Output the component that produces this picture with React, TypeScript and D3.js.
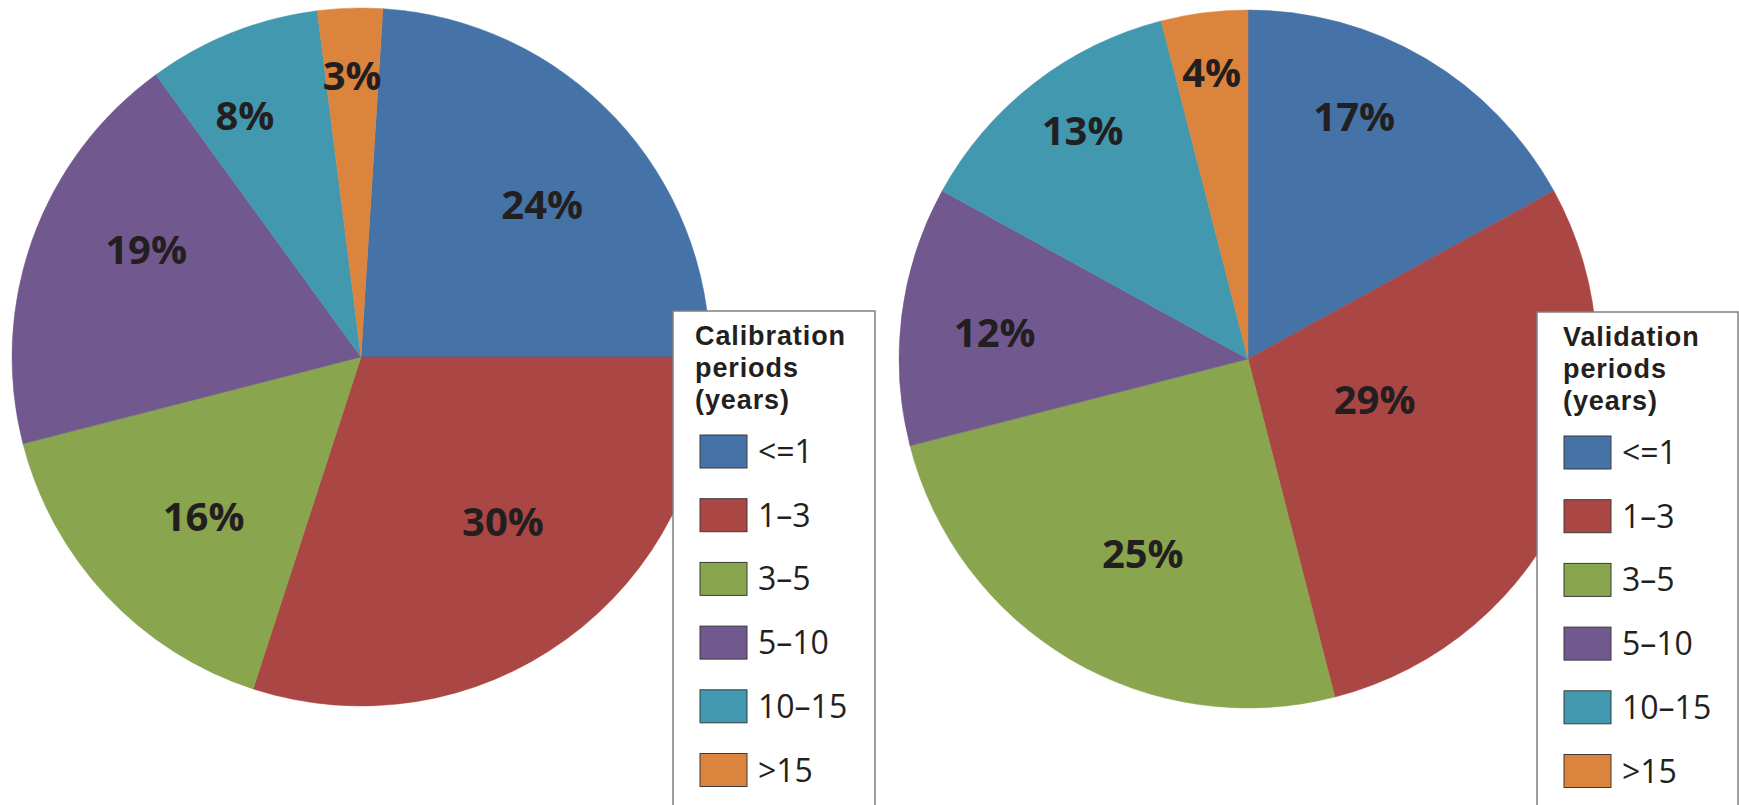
import * as d3 from "d3";

// categories shared by both pies
const categories = ["<=1", "1\u20133", "3\u20135", "5\u201310", "10\u201315", ">15"];
const colors = ["#4572A7", "#AA4643", "#89A54E", "#71588F", "#4198AF", "#DB843D"];

// percentages
const calibrationValues = [24, 30, 16, 19, 8, 3];
const validationValues = [17, 29, 25, 12, 13, 4];

const calibrationTitle = ["Calibration", "periods", "(years)"];
const validationTitle = ["Validation", "periods", "(years)"];

// label placement, like Excel's "best fit": [radius fraction, angle nudge in degrees]
const calibrationLabelPos: [number, number][] = [
  [0.68, 3], [0.62, -5], [0.64, -2], [0.69, 7], [0.77, -4], [0.81, 0],
];
const validationLabelPos: [number, number][] = [
  [0.76, -7], [0.38, -6], [0.63, -2], [0.73, -1], [0.81, 2], [0.83, 0],
];

const W = 1739;
const H = 805;
const R = 349;
const TEXT = "#231f20";
const FONT = "'Open Sans', 'DejaVu Sans', sans-serif";
const TITLE_FONT = "'Liberation Sans', Arial, sans-serif";

type PieProps = {
  values: number[];
  cx: number;
  cy: number;
  startDeg: number;
  labelPos: [number, number][];
};

const Pie = ({ values, cx, cy, startDeg, labelPos }: PieProps) => {
  const start = (startDeg * Math.PI) / 180;
  const pie = d3
    .pie<number>()
    .sort(null)
    .value((d) => d)
    .startAngle(start)
    .endAngle(start + 2 * Math.PI);
  const arcs = pie(values);
  const arc = d3.arc<d3.PieArcDatum<number>>().innerRadius(0).outerRadius(R);

  return (
    <g transform={`translate(${cx},${cy})`}>
      {arcs.map((a, i) => (
        <path key={i} d={arc(a) ?? ""} fill={colors[i]} stroke={colors[i]} strokeWidth={0.5} />
      ))}
      {arcs.map((a, i) => {
        const [rf, nudge] = labelPos[i];
        const ang = (a.startAngle + a.endAngle) / 2 + (nudge * Math.PI) / 180;
        const x = Math.sin(ang) * R * rf;
        const y = -Math.cos(ang) * R * rf;
        return (
          <text
            key={`l${i}`}
            x={x}
            y={y}
            textAnchor="middle"
            dominantBaseline="central"
            fontFamily={FONT}
            fontWeight={700}
            fontSize={40}
            fill={TEXT}
          >
            {`${a.data}%`}
          </text>
        );
      })}
    </g>
  );
};

type LegendProps = {
  x: number;
  y: number;
  width: number;
  title: string[];
  padTitle: number;
  padSwatch: number;
};

const Legend = ({ x, y, width, title, padTitle, padSwatch }: LegendProps) => {
  const rowY = d3.scaleLinear().domain([0, 1]).range([y + 124, y + 124 + 63.7]);
  return (
    <g>
      <rect x={x} y={y} width={width} height={H - y + 20} fill="#fff" stroke="#808080" strokeWidth={1.5} />
      {title.map((t, i) => (
        <text
          key={t}
          x={x + padTitle}
          y={y + 34 + i * 32}
          fontFamily={TITLE_FONT}
          fontWeight={700}
          fontSize={27}
          letterSpacing={0.9}
          fill={TEXT}
        >
          {t}
        </text>
      ))}
      {categories.map((c, i) => (
        <g key={c}>
          <rect
            x={x + padSwatch}
            y={rowY(i)}
            width={47}
            height={33}
            fill={colors[i]}
            stroke="#3a3a3a"
            strokeWidth={1}
          />
          <text
            x={x + padSwatch + 58}
            y={rowY(i) + 28}
            fontFamily={FONT}
            fontSize={32}
            fill={TEXT}
          >
            {c}
          </text>
        </g>
      ))}
    </g>
  );
};

export default function App() {
  return (
    <svg
      width={W}
      height={H}
      style={{ position: "absolute", left: 0, top: 0, background: "#fff" }}
    >
      <Pie values={calibrationValues} cx={361} cy={357} startDeg={3.6} labelPos={calibrationLabelPos} />
      <Legend x={673} y={311} width={202} title={calibrationTitle} padTitle={22} padSwatch={27} />
      <Pie values={validationValues} cx={1248} cy={359} startDeg={0} labelPos={validationLabelPos} />
      <Legend x={1537} y={312} width={201} title={validationTitle} padTitle={26} padSwatch={27} />
    </svg>
  );
}
